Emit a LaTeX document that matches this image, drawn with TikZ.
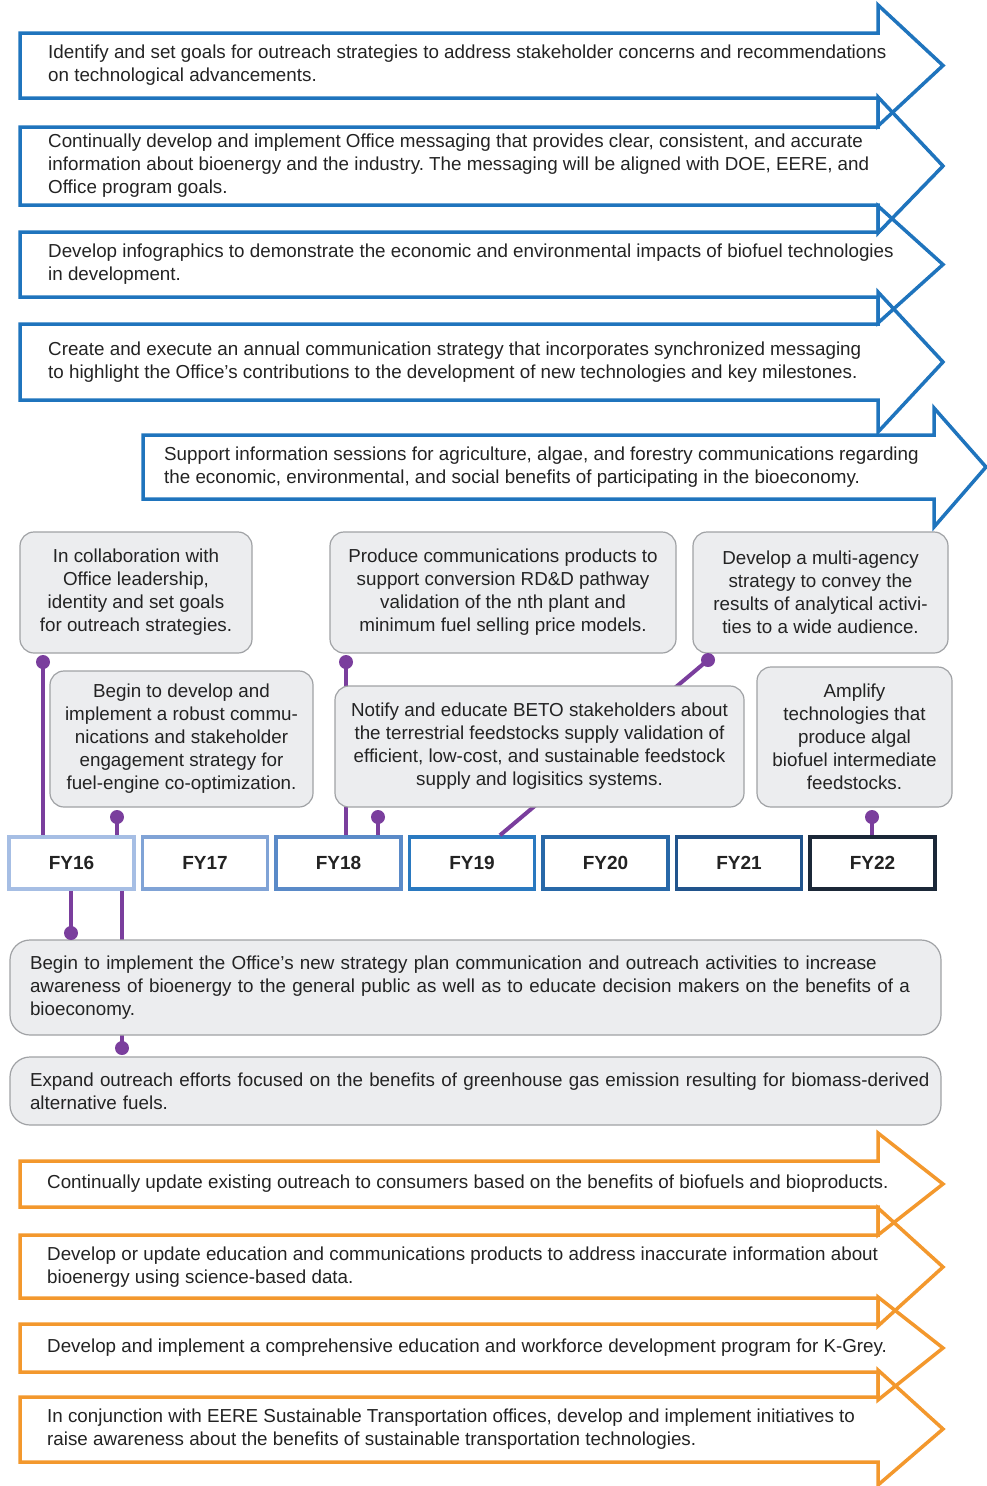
\documentclass[tikz,border=0pt]{standalone}
\usepackage{fontspec}
\setmainfont{Liberation Sans}
\usepackage{xcolor}
\usetikzlibrary{calc, positioning}
\definecolor{outblue}{RGB}{31,116,189}
\definecolor{outorange}{RGB}{243,152,45}
\definecolor{linkpurple}{RGB}{122,62,157}
\definecolor{boxgray}{RGB}{236,237,239}
\definecolor{boxedge}{RGB}{160,162,165}
\definecolor{inktext}{RGB}{35,35,35}
\definecolor{fyA}{RGB}{166,190,228}
\definecolor{fyB}{RGB}{128,163,214}
\definecolor{fyC}{RGB}{90,138,200}
\definecolor{fyD}{RGB}{42,121,192}
\definecolor{fyE}{RGB}{40,104,168}
\definecolor{fyF}{RGB}{33,84,140}
\definecolor{fyG}{RGB}{27,40,56}
\frenchspacing

\begin{document}
\begin{tikzpicture}[
    x=1pt, y=-1pt,
    band/.style={line width=3.5pt, line join=miter},
    bandtext/.style={anchor=west, align=left, inner sep=0pt, font=\fontsize{18.8}{23}\selectfont, text=inktext},
    taskbox/.style={rectangle, rounded corners=14pt, draw=boxedge, line width=1.2pt, fill=boxgray, align=center, inner sep=0pt, font=\fontsize{18.8}{23}\selectfont, text=inktext},
    widebox/.style={taskbox, rounded corners=20pt, align=left, text width=891pt, inner xsep=20pt, minimum width=931pt},
    yearbox/.style={rectangle, line width=3.5pt, fill=white, minimum width=125pt, minimum height=52pt, font=\fontsize{19}{22}\selectfont\bfseries, text=inktext},
    link/.style={linkpurple, line width=4pt}
]
\useasboundingbox (0,0) rectangle (987,1486);

% Blue arrows
\draw[band, outblue] (20,33) -- (878,33) -- (878,5) -- (943,65.5) -- (878,126) -- (878,98) -- (20,98) -- cycle;
\draw[band, outblue] (20,127) -- (878,127) -- (878,97) -- (943,166) -- (878,233) -- (878,205) -- (20,205) -- cycle;
\draw[band, outblue] (20,232) -- (878,232) -- (878,206) -- (943,264.5) -- (878,323) -- (878,297) -- (20,297) -- cycle;
\draw[band, outblue] (20,324) -- (878,324) -- (878,292) -- (943,362) -- (878,432) -- (878,400) -- (20,400) -- cycle;
\draw[band, outblue] (143,435) -- (934,435) -- (934,408) -- (986,467) -- (934,527) -- (934,499) -- (143,499) -- cycle;

\node[bandtext] (goals) at (48,65.5) {Identify and set goals for outreach strategies to address stakeholder concerns and recommendations\\on technological advancements.};
\node[bandtext] (messaging) at (48,166) {Continually develop and implement Office messaging that provides clear, consistent, and accurate\\information about bioenergy and the industry. The messaging will be aligned with DOE, EERE, and\\Office program goals.};
\node[bandtext] (infographics) at (48,264.5) {Develop infographics to demonstrate the economic and environmental impacts of biofuel technologies\\in development.};
\node[bandtext] (annual) at (48,362) {Create and execute an annual communication strategy that incorporates synchronized messaging\\to highlight the Office’s contributions to the development of new technologies and key milestones.};
\node[bandtext] (sessions) at (164,467) {Support information sessions for agriculture, algae, and forestry communications regarding\\the economic, environmental, and social benefits of participating in the bioeconomy.};

% Fiscal years
\foreach \yr/\col [count=\i from 0] in {16/fyA, 17/fyB, 18/fyC, 19/fyD, 20/fyE, 21/fyF, 22/fyG}
    \node[yearbox, draw=\col] (fy\yr) at (71.5+133.5*\i, 863) {FY\yr};

% Connector points
\coordinate (pA) at (43,662);
\coordinate (pD) at (117,817);
\coordinate (pB) at (346,662);
\coordinate (pE) at (378,817);
\coordinate (pC) at (708,660);
\coordinate (pF) at (872,817);
\coordinate (pG) at (71,933);
\coordinate (pH) at (122,1048);

% Connectors
\draw[link] (pA) -- (pA |- fy16.north);
\draw[link] (pD) -- (pD |- fy16.north);
\draw[link] (pB) -- (pB |- fy18.north);
\draw[link] (pE) -- (pE |- fy18.north);
\draw[link] (pC) -- ($(fy19.north)+(28,0)$);
\draw[link] (pF) -- (pF |- fy22.north);
\draw[link] (pG |- fy16.south) -- (pG);
\draw[link] (pH |- fy16.south) -- (pH);

% Milestone boxes
\node[taskbox, minimum width=232pt, minimum height=121pt] (leadership) at (136,592.5) {In collaboration with\\Office leadership,\\identity and set goals\\for outreach strategies.};
\node[taskbox, minimum width=346pt, minimum height=121pt] (products) at (503,592.5) {Produce communications products to\\support conversion RD\&D pathway\\validation of the nth plant and\\minimum fuel selling price models.};
\node[taskbox, minimum width=255pt, minimum height=121pt] (agency) at (820.5,592.5) {Develop a multi-agency\\strategy to convey the\\results of analytical activi-\\ties to a wide audience.};
\node[taskbox, minimum width=263pt, minimum height=136pt] (coopt) at (181.5,739) {Begin to develop and\\implement a robust commu-\\nications and stakeholder\\engagement strategy for\\fuel-engine co-optimization.};
\node[taskbox, minimum width=409pt, minimum height=121pt] (beto) at (539.5,746.5) {Notify and educate BETO stakeholders about\\the terrestrial feedstocks supply validation of\\efficient, low-cost, and sustainable feedstock\\supply and logisitics systems.};
\node[taskbox, minimum width=195pt, minimum height=140pt] (algal) at (854.5,737) {Amplify\\technologies that\\produce algal\\biofuel intermediate\\feedstocks.};
\node[widebox, minimum height=95pt] (strategy) at (475.5,987.5) {\mbox{Begin to implement the Office’s new strategy plan communication and outreach activities to increase}\\\mbox{awareness of bioenergy to the general public as well as to educate decision makers on the benefits of a}\\bioeconomy.};
\node[widebox, minimum height=68pt] (ghg) at (475.5,1091) {\mbox{Expand outreach efforts focused on the benefits of greenhouse gas emission resulting for biomass-derived}\\alternative fuels.};

% Dots
\foreach \p in {pA, pD, pB, pE, pC, pF, pG, pH}
    \fill[linkpurple] (\p) circle (7);

% Orange arrows
\draw[band, outorange] (20,1161) -- (878,1161) -- (878,1133) -- (943,1184) -- (878,1235) -- (878,1207) -- (20,1207) -- cycle;
\draw[band, outorange] (20,1235) -- (878,1235) -- (878,1208) -- (943,1267) -- (878,1326) -- (878,1298) -- (20,1298) -- cycle;
\draw[band, outorange] (20,1324) -- (878,1324) -- (878,1297) -- (943,1348) -- (878,1400) -- (878,1372) -- (20,1372) -- cycle;
\draw[band, outorange] (20,1397) -- (878,1397) -- (878,1370) -- (943,1429) -- (878,1485) -- (878,1462) -- (20,1462) -- cycle;

\node[bandtext] (consumers) at (47,1184) {Continually update existing outreach to consumers based on the benefits of biofuels and bioproducts.};
\node[bandtext] (inaccurate) at (47,1267) {Develop or update education and communications products to address inaccurate information about\\bioenergy using science-based data.};
\node[bandtext] (kgrey) at (47,1348) {Develop and implement a comprehensive education and workforce development program for K-Grey.};
\node[bandtext] (transport) at (47,1429) {In conjunction with EERE Sustainable Transportation offices, develop and implement initiatives to\\raise awareness about the benefits of sustainable transportation technologies.};
\end{tikzpicture}
\end{document}
